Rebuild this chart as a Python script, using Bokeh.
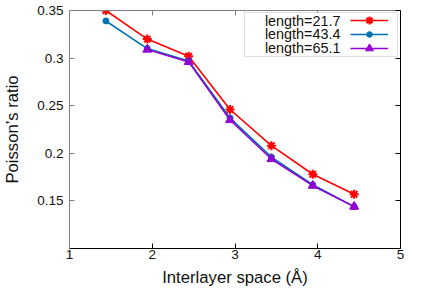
from bokeh.plotting import figure
from bokeh.models import (LinearAxis, FixedTicker, Range1d, Legend, LegendItem,
                          BoxAnnotation, Label)
from bokeh.embed import file_html
from bokeh.resources import INLINE

# ---- data ----
x_space = [1.44, 1.94, 2.44, 2.94, 3.44, 3.94, 4.44]
ratio_21_7 = [0.350, 0.320, 0.302, 0.246, 0.208, 0.178, 0.157]
ratio_43_4 = [0.339, 0.310, 0.297, 0.237, 0.196, 0.167, 0.144]
x_space_65_1 = [1.94, 2.44, 2.94, 3.44, 3.94, 4.44]
ratio_65_1 = [0.309, 0.296, 0.235, 0.194, 0.166, 0.144]
series_names = ["length=21.7", "length=43.4", "length=65.1"]
x_ticks = [1, 2, 3, 4, 5]
x_tick_labels = ["1", "2", "3", "4", "5"]
y_ticks = [0.15, 0.2, 0.25, 0.3, 0.35]
y_tick_labels = ["0.15", "0.2", "0.25", "0.3", "0.35"]

FONT = "Liberation Sans"
RED = "#ff0000"
BLUE = "#0072b2"
PURPLE = "#9400d3"
GRAY = "#808080"

p = figure(width=420, height=289, output_backend="svg", toolbar_location=None,
           x_range=Range1d(1, 5), y_range=Range1d(0.1, 0.35),
           min_border_left=68, min_border_right=20, min_border_top=10,
           min_border_bottom=41, x_axis_label="Interlayer space (Å)",
           y_axis_label="Poisson’s ratio")
p.outline_line_color = None
p.xgrid.visible = False
p.ygrid.visible = False
p.background_fill_color = "white"
p.border_fill_color = "white"

def style_axis(ax, ticks, labels, color, show_labels=True):
    ax.ticker = FixedTicker(ticks=ticks)
    ax.major_label_overrides = {t: l for t, l in zip(ticks, labels)}
    ax.minor_tick_line_color = None
    ax.major_tick_in = 5
    ax.major_tick_out = 0
    ax.axis_line_color = color
    ax.major_tick_line_color = color
    ax.major_label_text_font = FONT
    ax.major_label_text_font_size = "13.5px"
    ax.major_label_text_color = "#111111" if show_labels else None
    ax.axis_label_text_font = FONT
    ax.axis_label_text_font_size = "16.7px"
    ax.axis_label_text_font_style = "normal"
    ax.axis_label_text_color = "#111111"

style_axis(p.xaxis[0], x_ticks, x_tick_labels, "black")
p.xaxis[0].major_label_standoff = 1
p.xaxis[0].axis_label_standoff = 6
style_axis(p.yaxis[0], y_ticks, y_tick_labels, GRAY)
p.yaxis[0].major_label_standoff = 6
p.yaxis[0].axis_label_standoff = 12

top_ax = LinearAxis()
style_axis(top_ax, x_ticks, x_tick_labels, GRAY, show_labels=False)
top_ax.major_label_text_font_size = "0px"
top_ax.major_label_standoff = 0
p.add_layout(top_ax, "above")
right_ax = LinearAxis()
style_axis(right_ax, y_ticks, y_tick_labels, "black", show_labels=False)
right_ax.major_label_text_font_size = "0px"
right_ax.major_label_standoff = 0
p.add_layout(right_ax, "right")

r1l = p.line(x_space, ratio_21_7, line_color=RED, line_width=1.6)
r1m = p.scatter(x_space, ratio_21_7, marker="asterisk", size=9, line_color=RED, line_width=2)
r2l = p.line(x_space, ratio_43_4, line_color=BLUE, line_width=1.6)
r2m = p.scatter(x_space, ratio_43_4, marker="circle", size=6, fill_color=BLUE, line_color=BLUE)
r3l = p.line(x_space_65_1, ratio_65_1, line_color=PURPLE, line_width=1.6)
r3m = p.scatter(x_space_65_1, ratio_65_1, marker="triangle", size=9, fill_color=PURPLE, line_color=PURPLE)

# legend frame (text on left, samples on right, as in the reference)
box = BoxAnnotation(left=175, right=328, top=236, bottom=192,
                    left_units="screen", right_units="screen",
                    top_units="screen", bottom_units="screen",
                    fill_color="white", fill_alpha=1.0,
                    line_color="#999999", line_width=1)
p.add_layout(box)

row_y = [228, 214.3, 200.4]
renderer_pairs = [(r1l, r1m), (r2l, r2m), (r3l, r3m)]
glyph_h = [20, 14, 20]
for name, yy, rs, gh in zip(series_names, row_y, renderer_pairs, glyph_h):
    lg = Legend(items=[LegendItem(label=" ", renderers=list(rs))],
                location=(281, int(round(yy - gh / 2))), glyph_width=38,
                glyph_height=gh, label_height=gh, label_width=0,
                label_standoff=0, padding=0, spacing=0, margin=0,
                label_text_font_size="1px",
                border_line_color=None, background_fill_alpha=0)
    p.add_layout(lg, "center")
    p.add_layout(Label(x=271, y=yy, x_units="screen", y_units="screen",
                       text=name, text_align="right", text_baseline="middle",
                       text_font=FONT, text_font_size="14.4px", text_color="#111111"))

open("out.html", "w").write(file_html(p, INLINE))
